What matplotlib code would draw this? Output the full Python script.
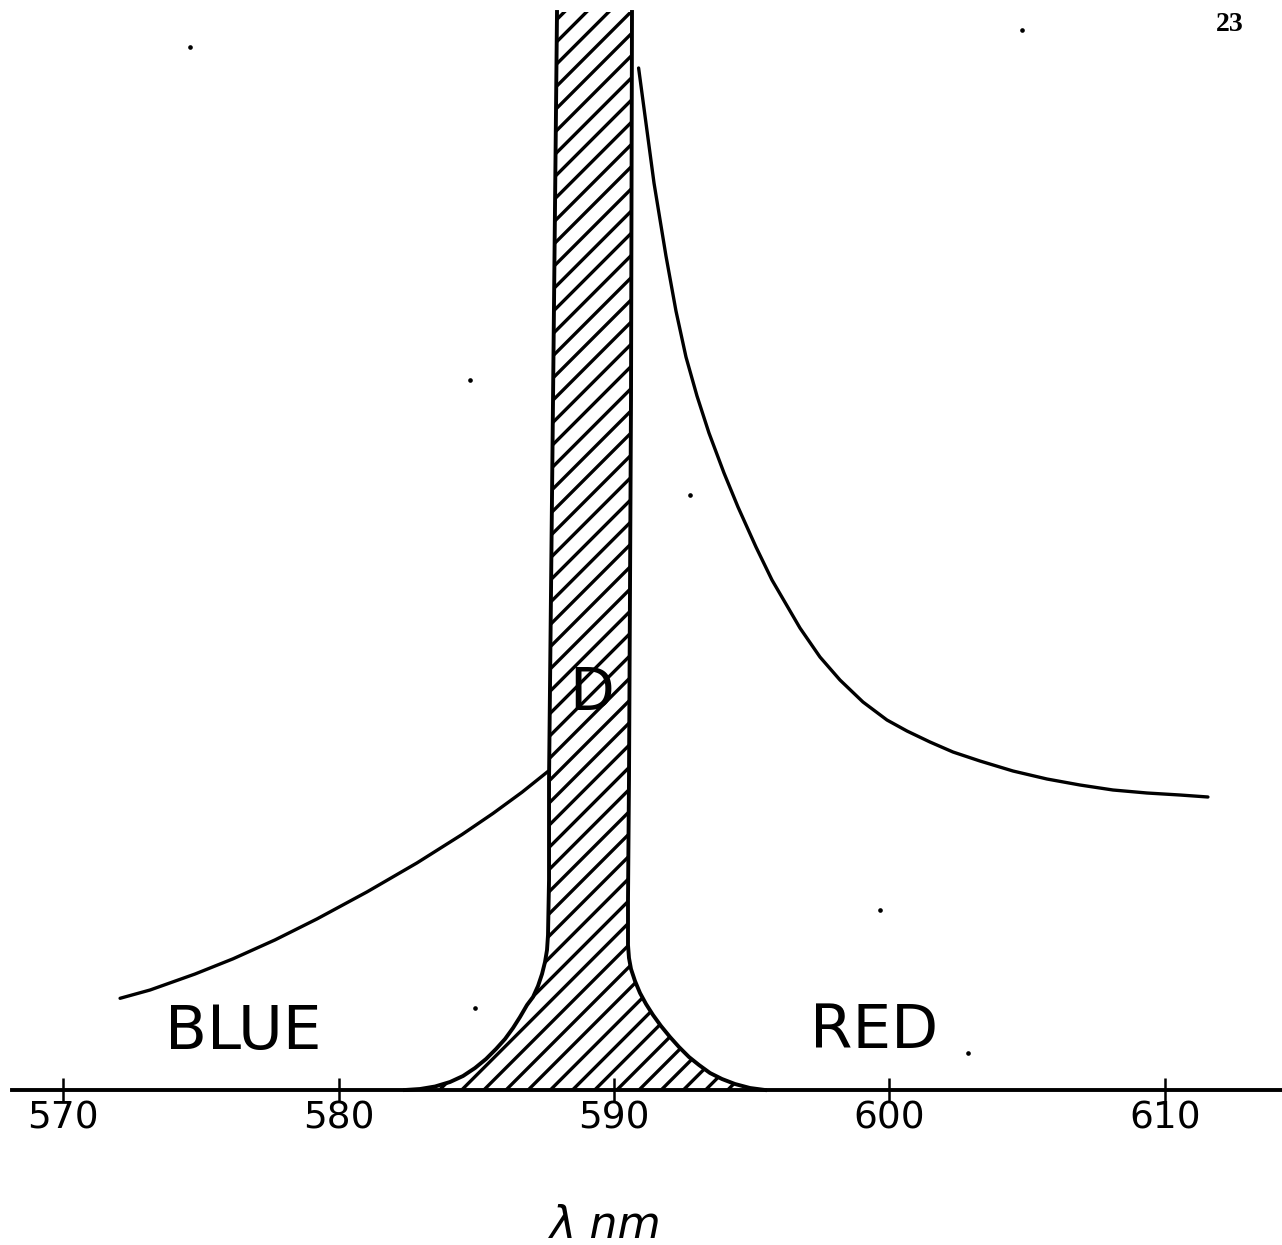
import matplotlib.pyplot as plt

# wavelength ticks (nm)
ticks = [570, 580, 590, 600, 610]
tick_labels = ["570", "580", "590", "600", "610"]

# D-line absorption profile outline: blue edge and red edge (wavelength, height)
left_x = [582.414, 582.958, 583.503, 584.047, 584.519, 584.955, 585.354, 585.717, 586.044,
          586.334, 586.588, 586.842, 587.060, 587.241, 587.387, 587.495, 587.568, 587.604,
          587.641, 587.641, 587.786, 587.931]
left_y = [0, 0.1, 0.35, 0.8, 1.4, 2.2, 3.1, 4.1, 5.1,
          6.2, 7.3, 8.5, 9.3, 10.4, 11.6, 12.8, 14.0, 15.5,
          21.0, 31.0, 69.0, 107.8]
right_x = [595.481, 594.936, 594.392, 593.920, 593.485, 593.085, 592.722, 592.359, 592.033,
           591.706, 591.416, 591.162, 590.944, 590.762, 590.617, 590.544, 590.508, 590.508,
           590.544, 590.617, 590.653]
right_y = [0, 0.2, 0.6, 1.1, 1.7, 2.5, 3.3, 4.3, 5.3,
           6.4, 7.5, 8.6, 9.7, 10.9, 12.1, 13.2, 14.5, 19.0,
           31.0, 69.0, 107.8]

# refractive index curve, blue side of the line
blue_x = [572.069, 573.158, 574.791, 576.171, 577.695, 579.220, 581.034, 582.849,
          584.483, 585.608, 586.661, 587.604]
blue_y = [9.17, 10.0, 11.6, 13.12, 15.01, 17.11, 19.81, 22.71, 25.55, 27.66, 29.78, 31.86]

# red side of the line
red_x = [590.893, 591.452, 591.887, 592.250, 592.613, 593.013, 593.448, 593.993, 594.501,
         595.154, 595.735, 596.243, 596.751, 597.477, 598.203, 599.038, 599.909, 600.635,
         601.470, 602.305, 603.285, 604.483, 605.717, 606.915, 608.113, 609.347, 610.544,
         611.561]
red_y = [102.2, 90.7, 83.4, 77.9, 73.3, 69.4, 65.7, 61.7, 58.3,
         54.3, 51.0, 48.6, 46.2, 43.3, 41.0, 38.8, 37.0, 35.9,
         34.8, 33.8, 32.9, 31.9, 31.1, 30.5, 30.0, 29.7, 29.5,
         29.3]

# specks of dirt on the scanned page
speck_x = [574.61, 604.81, 584.77, 592.76, 599.65, 584.95, 602.85]
speck_y = [104.3, 106.0, 71.0, 59.5, 18.0, 8.2, 3.7]

# higher dpi so the hatch spacing matches the drawing; k converts sizes back
DPI = 133.3
k = 100 / DPI
plt.rcParams['hatch.linewidth'] = 1.8

fig = plt.figure(figsize=(1282 / DPI, 1245 / DPI), dpi=DPI)
ax = fig.add_axes([0, 0, 1, 1])
ax.set_xlim(567.71, 614.25)
ax.set_ylim(-15.5, 109)

# hatched absorption line, open at the top
ax.fill(left_x + right_x[::-1], left_y + right_y[::-1],
        facecolor='white', edgecolor='black', hatch='//', linewidth=0)
ax.plot(left_x, left_y, color='black', lw=2.8 * k)
ax.plot(right_x, right_y, color='black', lw=2.8 * k)

ax.plot(blue_x, blue_y, color='black', lw=2.4 * k, solid_capstyle='round')
ax.plot(red_x, red_y, color='black', lw=2.4 * k, solid_capstyle='round')
ax.scatter(speck_x, speck_y, s=4 * k * k, color='black')

ax.text(576.53, 5.7, "BLUE", fontsize=44 * k, ha='center', va='center')
ax.text(599.44, 5.9, "RED", fontsize=44 * k, ha='center', va='center')
ax.text(589.2, 39.7, "D", fontsize=42 * k, ha='center', va='center')
ax.text(589.7, -13.6, "λ nm", fontsize=32 * k, ha='center', va='center', style='italic')
fig.text(0.959, 0.980, "23", fontsize=20 * k, fontweight='bold',
         family='Liberation Serif', ha='center', va='center')

# the axis line itself
for s in ['top', 'right', 'left']:
    ax.spines[s].set_visible(False)
ax.spines['bottom'].set_position(('data', 0))
ax.spines['bottom'].set_bounds(568.15, 614.25)
ax.spines['bottom'].set_linewidth(2.8 * k)
ax.set_xticks(ticks)
ax.set_xticklabels(tick_labels)
ax.tick_params(axis='x', direction='inout', length=17 * k, width=1.8 * k,
               labelsize=27 * k, pad=-2 * k)
ax.set_yticks([])

fig.savefig("out.png", dpi=DPI, facecolor='white')
